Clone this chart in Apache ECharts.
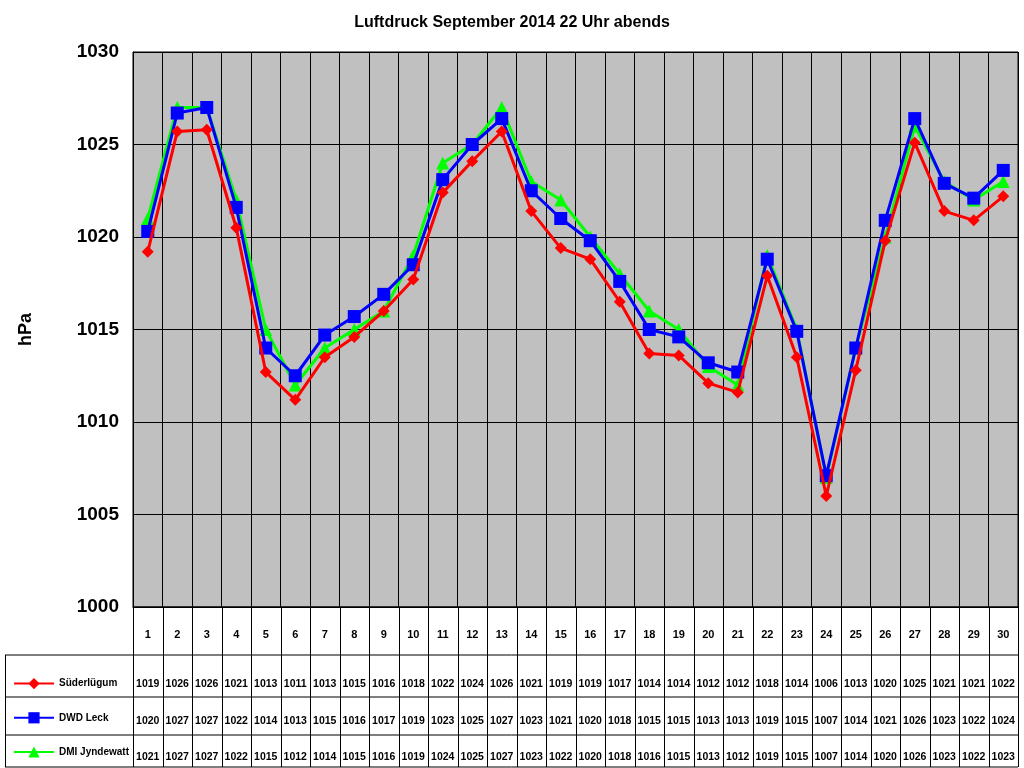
<!DOCTYPE html>
<html><head><meta charset="utf-8">
<script src="https://cdn.jsdelivr.net/npm/echarts@6/dist/echarts.min.js"></script>
<style>html,body{margin:0;padding:0;background:#fff}#c{width:1024px;height:768px}</style>
</head><body><div id="c"></div>
<script>
const days = Array.from({length:30},(_,i)=>String(i+1));
const names = ['Süderlügum','DWD Leck','DMI Jyndewatt'];
const colors = ['#ff0000','#0000ff','#00ff00'];
const symbols = ['diamond','rect','triangle'];
const sued = [1019.2,1025.7,1025.8,1020.5,1012.7,1011.2,1013.5,1014.6,1016.0,1017.7,1022.4,1024.1,1025.7,1021.4,1019.4,1018.8,1016.5,1013.7,1013.6,1012.1,1011.6,1017.9,1013.5,1006.0,1012.8,1019.8,1025.1,1021.4,1020.9,1022.2];
const leck = [1020.3,1026.7,1027.0,1021.6,1014.0,1012.5,1014.7,1015.7,1016.9,1018.5,1023.1,1025.0,1026.4,1022.5,1021.0,1019.8,1017.6,1015.0,1014.6,1013.2,1012.7,1018.8,1014.9,1007.1,1014.0,1020.9,1026.4,1022.9,1022.1,1023.6];
const dmi = [1021,1027,1027,1022,1015,1012,1014,1015,1016,1019,1024,1025,1027,1023,1022,1020,1018,1016,1015,1013,1012,1019,1015,1007,1014,1020,1026,1023,1022,1023];
const tSued = [1019,1026,1026,1021,1013,1011,1013,1015,1016,1018,1022,1024,1026,1021,1019,1019,1017,1014,1014,1012,1012,1018,1014,1006,1013,1020,1025,1021,1021,1022];
const tLeck = [1020,1027,1027,1022,1014,1013,1015,1016,1017,1019,1023,1025,1027,1023,1021,1020,1018,1015,1015,1013,1013,1019,1015,1007,1014,1021,1026,1023,1022,1024];
const tDmi = [1021,1027,1027,1022,1015,1012,1014,1015,1016,1019,1024,1025,1027,1023,1022,1020,1018,1016,1015,1013,1012,1019,1015,1007,1014,1020,1026,1023,1022,1023];
const series = [sued, leck, dmi];
const tables = [tSued, tLeck, tDmi];

const G = {left:133, right:6, top:52, bottom:161};
const W = 1024, H = 768;
const gw = W-G.left-G.right, cw = gw/30, yb = H-G.bottom;
const lbl = {fontFamily:'Arial, Liberation Sans', fontWeight:'bold', fontSize:11, color:'#000'};

const xAxes = [{type:'category', data:days, boundaryGap:true,
  axisLine:{lineStyle:{color:'#000'}}, axisTick:{show:false},
  splitLine:{show:true, interval:0, lineStyle:{color:'#000', width:1}},
  axisLabel:{...lbl, interval:0, margin:22}}];
const offs = [68, 105, 141];
tables.forEach((t,i)=>xAxes.push({type:'category', data:t.map(String), position:'bottom', offset:offs[i],
  axisLine:{show:false}, axisTick:{show:false}, axisLabel:{...lbl, fontSize:10.5, interval:0, margin:4}}));

const gr = [];
const rowLines = [yb, 655, 697, 735, 767];
rowLines.forEach((y,i)=>gr.push({type:'line', shape:{x1:i==0?G.left:5,y1:y,x2:W-G.right,y2:y}, style:{stroke:'#000', lineWidth:1}}));
for(let i=0;i<=30;i++){const x=Math.round(G.left+i*cw)+0.5; gr.push({type:'line', shape:{x1:x,y1:yb,x2:x,y2:767}, style:{stroke:'#000'}});}
gr.push({type:'line', shape:{x1:5.5,y1:655,x2:5.5,y2:767}, style:{stroke:'#000'}});

const chart = echarts.init(document.getElementById('c'));
chart.setOption({
  backgroundColor:'#fff',
  animation:false,
  title:{text:'Luftdruck September 2014 22 Uhr abends', left:'center', top:10,
    textStyle:{fontFamily:'Arial, Liberation Sans', fontWeight:'bold', fontSize:16, color:'#000'}},
  grid:{...G, backgroundColor:'#c0c0c0', show:true, borderColor:'#000', borderWidth:1},
  legend:{orient:'vertical', left:8, top:673, itemGap:23, itemWidth:40, itemHeight:14,
    data:names, textStyle:{...lbl, fontSize:10}},
  xAxis:xAxes,
  yAxis:{type:'value', min:1000, max:1030, interval:5, name:'hPa', nameLocation:'middle', nameGap:98,
    nameTextStyle:{fontFamily:'Arial, Liberation Sans', fontWeight:'bold', fontSize:18, color:'#000'},
    axisLine:{show:true, lineStyle:{color:'#000'}}, axisTick:{show:false},
    splitLine:{lineStyle:{color:'#000'}},
    axisLabel:{fontFamily:'Arial, Liberation Sans', fontWeight:'bold', fontSize:19, color:'#000', margin:14,
      formatter:v=>String(v)}},
  series:series.map((d,i)=>({name:names[i], type:'line', data:d, xAxisIndex:0,
    symbol:symbols[i], symbolSize:i==0?12:13, itemStyle:{color:colors[i]},
    lineStyle:{color:colors[i], width:3}, z:2+(2-i)})),
  graphic:gr
});
</script></body></html>
